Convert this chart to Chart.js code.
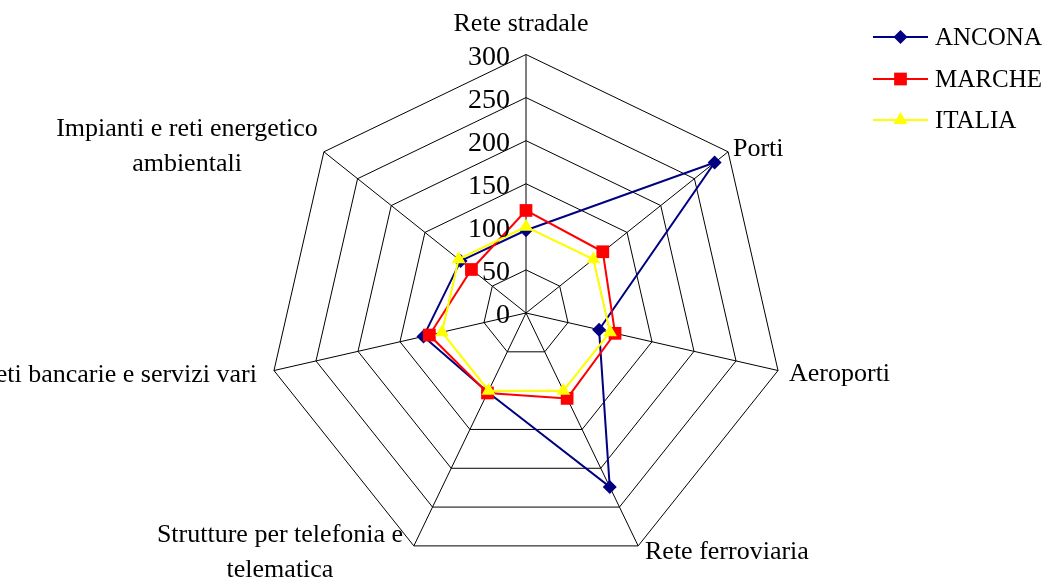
<!DOCTYPE html>
<html>
<head>
<meta charset="utf-8">
<script src="https://cdn.jsdelivr.net/npm/chart.js@4/dist/chart.umd.min.js"></script>
<style>
    html, body { margin: 0; padding: 0; background: #fff; }
    .wrap { position: relative; width: 1043px; height: 577px; }
</style>
</head>
<body>
<div class="wrap"><canvas id="radarChart"></canvas></div>
<script>
// categorie (assi)
const categories = [
    'Rete stradale',
    'Porti',
    'Aeroporti',
    'Rete ferroviaria',
    'Strutture per telefonia e telematica',
    'Reti bancarie e servizi vari',
    'Impianti e reti energetico ambientali'
];

// serie
const ancona = [96, 280, 87, 224, 102, 122, 97];
const marche = [119, 114, 106, 110, 103, 115, 81];
const italia = [100, 100, 100, 100, 100, 100, 100];

// etichette scala
const tickValues = [0, 50, 100, 150, 200, 250, 300];

const FONT = '"Liberation Serif", "Times New Roman", serif';

// posizione etichette assi (stile)
const labelLayout = [
    { lines: ['Rete stradale'], x: 521, y: 24, align: 'center' },
    { lines: ['Porti'], x: 733, y: 149, align: 'left' },
    { lines: ['Aeroporti'], x: 789, y: 374, align: 'left' },
    { lines: ['Rete ferroviaria'], x: 645, y: 552, align: 'left' },
    { lines: ['Strutture per telefonia e', 'telematica'], x: 280, y: 535, align: 'center' },
    { lines: ['Reti bancarie e servizi vari'], x: 257, y: 375, align: 'right' },
    { lines: ['Impianti e reti energetico', 'ambientali'], x: 187, y: 129, align: 'center' }
];

const seriesStyle = [
    { label: 'ANCONA', data: ancona, color: '#000080', style: 'rectRot', radius: 7, order: 3 },
    { label: 'MARCHE', data: marche, color: '#FF0000', style: 'rect', radius: 9, order: 2 },
    { label: 'ITALIA', data: italia, color: '#FFFF00', style: 'triangle', radius: 8, order: 1 }
];

function drawMarker(ctx, style, x, y, r, color) {
    ctx.save();
    ctx.fillStyle = color;
    ctx.beginPath();
    if (style === 'rectRot') {
        ctx.moveTo(x, y - r);
        ctx.lineTo(x + r, y);
        ctx.lineTo(x, y + r);
        ctx.lineTo(x - r, y);
    } else if (style === 'rect') {
        const s = r * Math.SQRT1_2;
        ctx.rect(x - s, y - s, 2 * s, 2 * s);
    } else {
        ctx.moveTo(x, y - r);
        ctx.lineTo(x + r * 0.866, y + r * 0.5);
        ctx.lineTo(x - r * 0.866, y + r * 0.5);
    }
    ctx.closePath();
    ctx.fill();
    ctx.restore();
}

// etichette, scala e legenda disegnate a mano
const labelsPlugin = {
    id: 'labelsPlugin',
    afterDraw(chart) {
        const ctx = chart.ctx;
        const scale = chart.scales.r;
        ctx.save();
        ctx.fillStyle = '#000';
        ctx.textBaseline = 'middle';

        // etichette assi
        ctx.font = '26px ' + FONT;
        labelLayout.forEach((l, i) => {
            ctx.textAlign = l.align;
            l.lines.forEach((t, k) => {
                ctx.fillText(t, l.x, l.y + k * 35);
            });
        });

        // valori scala
        ctx.font = '28px ' + FONT;
        ctx.textAlign = 'right';
        tickValues.forEach(v => {
            const d = scale.getDistanceFromCenterForValue(v);
            ctx.fillText(String(v), scale.xCenter - 16, scale.yCenter - d + 3);
        });

        // legenda
        ctx.font = '25px ' + FONT;
        ctx.textAlign = 'left';
        const legendY = [37, 79, 120];
        seriesStyle.forEach((s, i) => {
            const y = legendY[i];
            ctx.strokeStyle = s.color;
            ctx.lineWidth = 2;
            ctx.beginPath();
            ctx.moveTo(873, y);
            ctx.lineTo(928, y);
            ctx.stroke();
            drawMarker(ctx, s.style, 900.5, y, s.radius, s.color);
            ctx.fillStyle = '#000';
            ctx.fillText(s.label, 935, y + 1);
        });
        ctx.restore();
    }
};

function createRadarChart() {
    const ctx = document.getElementById('radarChart');
    new Chart(ctx, {
        type: 'radar',
        data: {
            labels: categories,
            datasets: seriesStyle.map(s => ({
                label: s.label,
                data: s.data,
                borderColor: s.color,
                backgroundColor: s.color,
                borderWidth: 2,
                fill: false,
                pointStyle: s.style,
                pointRadius: s.radius,
                pointHoverRadius: s.radius,
                pointBorderWidth: 0,
                pointBackgroundColor: s.color,
                tension: 0,
                order: s.order
            }))
        },
        options: {
            responsive: true,
            maintainAspectRatio: false,
            animation: false,
            plugins: {
                legend: { display: false },
                tooltip: { enabled: false }
            },
            scales: {
                r: {
                    min: 0,
                    max: 300,
                    ticks: { stepSize: 50, display: false },
                    pointLabels: { display: false },
                    grid: { color: '#000', lineWidth: 1 },
                    angleLines: { color: '#000', lineWidth: 1 },
                    afterFit(scale) {
                        scale.xCenter = 526;
                        scale.yCenter = 313;
                        scale.drawingArea = 258.5;
                    }
                }
            }
        },
        plugins: [labelsPlugin]
    });
}

createRadarChart();
</script>
</body>
</html>
